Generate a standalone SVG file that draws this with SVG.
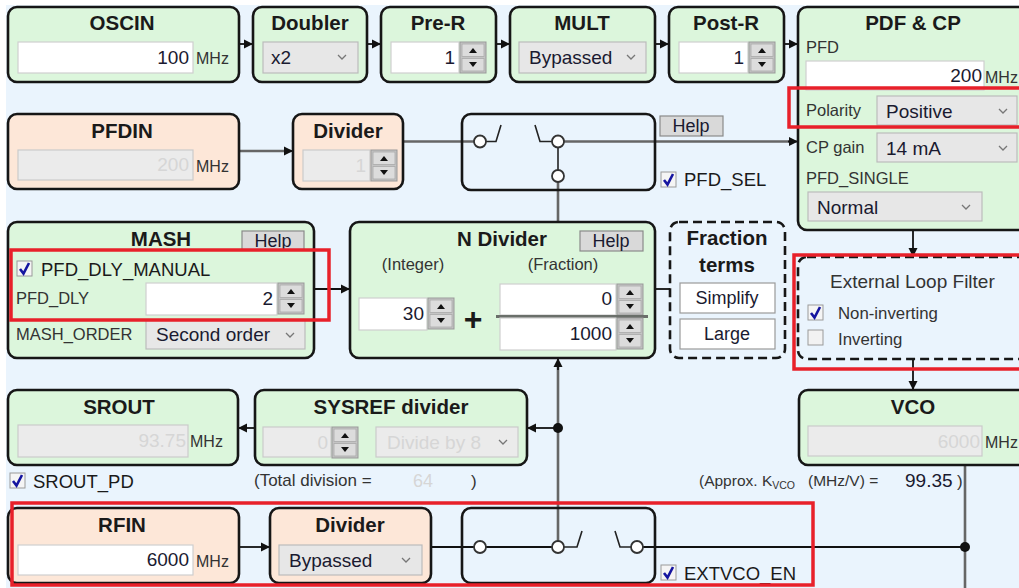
<svg xmlns="http://www.w3.org/2000/svg" width="1019" height="588" viewBox="0 0 1019 588">
<style>
text{font-family:"Liberation Sans",Arial,sans-serif}
.g{fill:#dcf6dc;stroke:#161616;stroke-width:2.6}
.p{fill:#fde7d8;stroke:#161616;stroke-width:2.6}
.sw{fill:none;stroke:#161616;stroke-width:2.6}
.dash{fill:none;stroke:#161616;stroke-width:2.6;stroke-dasharray:9 5}
.t{font-weight:bold;font-size:20.5px;fill:#1a1a1a;text-anchor:middle}
.in{fill:#fff;stroke:#cfcfcf;stroke-width:1.2}
.dis{fill:#ebebeb;stroke:#cbcbcb;stroke-width:1.2}
.sel{fill:#e7e7e7;stroke:#bcbcbc;stroke-width:1.2}
.v{font-size:19px;fill:#1a1a30;text-anchor:end}
.vs{font-size:19px;fill:#1a1a30}
.vd{font-size:19px;fill:#d6d6d6;text-anchor:end}
.lb{font-size:16.5px;fill:#333}
.u{font-size:16px;fill:#333}
.ck{font-size:18.5px;fill:#1a1a1a}
.btn{fill:#d9d9d9;stroke:#8a8a8a;stroke-width:1.2}
.bt{font-size:18px;fill:#1a1a30;text-anchor:middle}
.wb{fill:#fff;stroke:#9a9a9a;stroke-width:1.2}
.red{fill:none;stroke:#e8202a;stroke-width:3.5}
.k{stroke:#111;stroke-width:1.8;fill:none}
.gr{stroke:#666;stroke-width:2.6;fill:none}
.circ{fill:#fff;stroke:#333;stroke-width:1.8}
.sl{fill:none;stroke:#222;stroke-width:1.6}
</style>
<defs>
<marker id="ah" viewBox="0 0 10 10" refX="10" refY="5" markerWidth="9" markerHeight="10" markerUnits="userSpaceOnUse" orient="auto"><path d="M0,0 L10,5 L0,10 z" fill="#111"/></marker>
<g id="spin">
<rect x="0" y="0" width="26" height="31" fill="#c4c4c4" stroke="#999" stroke-width="1"/>
<rect x="2" y="2" width="22" height="12.5" fill="#dcdcdc" stroke="#aaa" stroke-width="0.8"/>
<rect x="2" y="16.5" width="22" height="12.5" fill="#dcdcdc" stroke="#aaa" stroke-width="0.8"/>
<path d="M9,11 L13,6 L17,11 z" fill="#111"/>
<path d="M9,20 L13,25 L17,20 z" fill="#111"/>
</g>
<path id="chev" d="M-4,-2 L0,2 L4,-2" fill="none" stroke="#777" stroke-width="1.3"/>
<g id="chk"><rect x="0" y="0" width="15" height="15" fill="#f5f5f5" stroke="#9a9a9a" stroke-width="1"/><path d="M3,8 L6.5,12.5 L12,2" fill="none" stroke="#1515a0" stroke-width="2.6"/></g>
<g id="unchk"><rect x="0" y="0" width="15" height="15" fill="#f2f2f2" stroke="#9a9a9a" stroke-width="1"/></g>
</defs>
<rect x="0" y="0" width="1019" height="588" fill="#fff"/>
<rect x="6" y="5" width="1013" height="583" fill="#eaf4fd"/>

<g id="connectors">
<line class="k" x1="239" y1="44" x2="253" y2="44" marker-end="url(#ah)"/>
<line class="k" x1="367" y1="44" x2="381" y2="44" marker-end="url(#ah)"/>
<line class="k" x1="496" y1="44" x2="510" y2="44" marker-end="url(#ah)"/>
<line class="k" x1="655" y1="44" x2="669" y2="44" marker-end="url(#ah)"/>
<line class="k" x1="784" y1="44" x2="798" y2="44" marker-end="url(#ah)"/>
<line class="gr" x1="239" y1="151" x2="291" y2="151"/>
<line class="k" x1="285" y1="151" x2="293" y2="151" marker-end="url(#ah)"/>
<line class="gr" x1="403" y1="141.5" x2="474" y2="141.5"/>
<line class="gr" x1="564" y1="141.5" x2="794" y2="141.5"/>
<line class="k" x1="788" y1="141.5" x2="798" y2="141.5" marker-end="url(#ah)"/>
<line class="gr" x1="558" y1="182" x2="558" y2="222"/>
<line class="k" x1="314" y1="289" x2="350" y2="289" marker-end="url(#ah)"/>
<line class="k" x1="655" y1="289" x2="670" y2="289"/>
<line class="k" x1="913" y1="230" x2="913" y2="257" marker-end="url(#ah)"/>
<line class="k" x1="913" y1="359" x2="913" y2="390" marker-end="url(#ah)"/>
<line class="gr" x1="558" y1="366" x2="558" y2="541"/>
<line class="k" x1="558" y1="370" x2="558" y2="358" marker-end="url(#ah)"/>
<line class="k" x1="558" y1="428" x2="527" y2="428" marker-end="url(#ah)"/>
<line class="k" x1="255" y1="428" x2="238" y2="428" marker-end="url(#ah)"/>
<line class="k" x1="376" y1="432" x2="358" y2="432" marker-end="url(#ah)"/>
<circle cx="558" cy="428" r="5" fill="#111"/>
<line class="gr" x1="965" y1="465" x2="965" y2="588"/>
<line class="k" x1="239" y1="547" x2="270" y2="547" marker-end="url(#ah)"/>
<line class="k" x1="431" y1="547" x2="474" y2="547"/>
<line class="k" x1="643" y1="547" x2="965" y2="547"/>
<circle cx="965" cy="547" r="5" fill="#111"/>
</g>

<g id="oscin">
<rect class="g" x="8" y="7" width="231" height="75" rx="9"/>
<text class="t" x="122" y="30">OSCIN</text>
<rect class="in" x="18" y="42" width="175" height="31"/>
<text class="v" x="189" y="64">100</text>
<text class="u" x="196" y="64">MHz</text>
</g>
<g id="doubler">
<rect class="g" x="253" y="7" width="114" height="75" rx="9"/>
<text class="t" x="310" y="30">Doubler</text>
<rect class="sel" x="263" y="42" width="95" height="31"/>
<text class="vs" x="271" y="64">x2</text>
<use href="#chev" x="342" y="57"/>
</g>
<g id="prer">
<rect class="g" x="381" y="7" width="115" height="75" rx="9"/>
<text class="t" x="438" y="30">Pre-R</text>
<rect class="in" x="391" y="42" width="68" height="31"/>
<text class="v" x="455" y="64">1</text>
<use href="#spin" x="460" y="42"/>
</g>
<g id="mult">
<rect class="g" x="510" y="7" width="145" height="75" rx="9"/>
<text class="t" x="582" y="30">MULT</text>
<rect class="sel" x="519" y="42" width="127" height="31"/>
<text class="vs" x="529" y="64">Bypassed</text>
<use href="#chev" x="631" y="57"/>
</g>
<g id="postr">
<rect class="g" x="669" y="7" width="115" height="75" rx="9"/>
<text class="t" x="726" y="30">Post-R</text>
<rect class="in" x="679" y="42" width="69" height="31"/>
<text class="v" x="744" y="64">1</text>
<use href="#spin" x="749" y="42"/>
</g>
<g id="pdfcp">
<rect class="g" x="798" y="7" width="240" height="223" rx="9"/>
<text class="t" x="913" y="30">PDF &amp; CP</text>
<text class="lb" x="806" y="53">PFD</text>
<rect class="in" x="806" y="61" width="178" height="29"/>
<text class="v" x="982" y="82">200</text>
<text class="u" x="985" y="83">MHz</text>
<text class="lb" x="806" y="116">Polarity</text>
<rect class="sel" x="877" y="96" width="140" height="29"/>
<text class="vs" x="886" y="118">Positive</text>
<use href="#chev" x="1003" y="111"/>
<text class="lb" x="806" y="153">CP gain</text>
<rect class="sel" x="877" y="133" width="140" height="29"/>
<text class="vs" x="886" y="155">14 mA</text>
<use href="#chev" x="1003" y="148"/>
<text class="lb" x="806" y="184">PFD_SINGLE</text>
<rect class="sel" x="808" y="192" width="174" height="29"/>
<text class="vs" x="817" y="214">Normal</text>
<use href="#chev" x="966" y="207"/>
</g>
<g id="pfdin">
<rect class="p" x="8" y="114" width="231" height="75" rx="9"/>
<text class="t" x="122" y="138">PFDIN</text>
<rect class="dis" x="18" y="150" width="175" height="30"/>
<text class="vd" x="189" y="171">200</text>
<text class="u" x="196" y="172">MHz</text>
</g>
<g id="divider1">
<rect class="p" x="293" y="114" width="110" height="75" rx="9"/>
<text class="t" x="348" y="138">Divider</text>
<rect class="dis" x="303" y="150" width="67" height="31"/>
<text class="vd" x="366" y="172">1</text>
<use href="#spin" x="371" y="150"/>
</g>
<g id="pfdsel-switch">
<rect class="sw" x="462" y="114" width="193" height="76" rx="9"/>
<path class="sl" d="M486,141.5 H496 L501,125 M535,125 L540,141.5 H552"/>
<line class="sl" x1="558" y1="148" x2="558" y2="170"/>
<circle class="circ" cx="480" cy="141.5" r="6"/>
<circle class="circ" cx="558" cy="141.5" r="6"/>
<circle class="circ" cx="558" cy="176" r="6"/>
<rect class="btn" x="660" y="116" width="63" height="20"/>
<text class="bt" x="691" y="132">Help</text>
<use href="#chk" x="661" y="172"/>
<text class="ck" x="684" y="186">PFD_SEL</text>
</g>
<g id="mash">
<rect class="g" x="8" y="222" width="306" height="136" rx="9"/>
<text class="t" x="161" y="246">MASH</text>
<rect class="btn" x="242" y="231" width="62" height="19"/>
<text class="bt" x="273" y="247">Help</text>
<use href="#chk" x="17" y="261"/>
<text class="ck" x="41" y="276">PFD_DLY_MANUAL</text>
<text class="lb" x="16" y="304">PFD_DLY</text>
<rect class="in" x="146" y="283" width="131" height="32"/>
<text class="v" x="273" y="305">2</text>
<use href="#spin" x="278" y="283"/>
<text class="lb" x="16" y="340">MASH_ORDER</text>
<rect class="sel" x="146" y="320" width="159" height="29"/>
<text class="vs" x="156" y="341">Second order</text>
<use href="#chev" x="290" y="335"/>
</g>
<g id="ndivider">
<rect class="g" x="350" y="222" width="305" height="136" rx="9"/>
<text class="t" x="502" y="246">N Divider</text>
<rect class="btn" x="580" y="231" width="63" height="20"/>
<text class="bt" x="611" y="247">Help</text>
<text class="lb" x="413" y="270" text-anchor="middle">(Integer)</text>
<text class="lb" x="563" y="270" text-anchor="middle">(Fraction)</text>
<rect class="in" x="359" y="298" width="68" height="32"/>
<text class="v" x="424" y="320">30</text>
<use href="#spin" x="428" y="298"/>
<text x="473" y="330" font-size="32" font-weight="bold" fill="#1a1a1a" text-anchor="middle">+</text>
<rect class="in" x="500" y="284" width="116" height="31"/>
<text class="v" x="612" y="305">0</text>
<use href="#spin" x="617" y="284"/>
<line x1="496" y1="316.5" x2="648" y2="316.5" stroke="#6a6f6a" stroke-width="3"/>
<rect class="in" x="500" y="318" width="116" height="32"/>
<text class="v" x="612" y="340">1000</text>
<use href="#spin" x="617" y="318"/>
</g>
<g id="fraction-terms">
<rect class="dash" x="670" y="222" width="115" height="136" rx="9"/>
<text class="t" x="727" y="245">Fraction</text>
<text class="t" x="727" y="272">terms</text>
<rect class="wb" x="680" y="283" width="95" height="30"/>
<text class="bt" x="727" y="304">Simplify</text>
<rect class="wb" x="680" y="319" width="95" height="30"/>
<text class="bt" x="727" y="340">Large</text>
</g>
<g id="loop-filter">
<rect class="dash" x="798" y="257" width="240" height="102" rx="9"/>
<text x="830" y="288" font-size="19px" fill="#333">External Loop Filter</text>
<use href="#chk" x="808" y="305"/>
<text x="838" y="319" font-size="16.8px" fill="#333">Non-inverting</text>
<use href="#unchk" x="808" y="330"/>
<text x="838" y="345" font-size="16.8px" fill="#333">Inverting</text>
</g>
<g id="vco">
<rect class="g" x="799" y="390" width="240" height="75" rx="9"/>
<text class="t" x="913" y="414">VCO</text>
<rect class="dis" x="808" y="426" width="174" height="30"/>
<text class="vd" x="980" y="448">6000</text>
<text class="u" x="985" y="448">MHz</text>
<text x="699" y="486" font-size="15.5px" fill="#333">(Approx. K<tspan font-size="10.5px" dy="3">VCO</tspan><tspan dy="-3" x="808">(MHz/V) =</tspan></text>
<text class="vs" x="905" y="487">99.35</text>
<text x="957" y="487" font-size="17px" fill="#333">)</text>
</g>
<g id="srout">
<rect class="g" x="8" y="390" width="230" height="75" rx="9"/>
<text class="t" x="119" y="414">SROUT</text>
<rect class="dis" x="18" y="425" width="170" height="32"/>
<text class="vd" x="186" y="447">93.75</text>
<text class="u" x="190" y="447">MHz</text>
<use href="#chk" x="10" y="473"/>
<text class="ck" x="33" y="488">SROUT_PD</text>
</g>
<g id="sysref">
<rect class="g" x="255" y="390" width="272" height="75" rx="9"/>
<text class="t" x="391" y="414">SYSREF divider</text>
<rect class="dis" x="263" y="427" width="68" height="30"/>
<text class="vd" x="328" y="449">0</text>
<use href="#spin" x="332" y="427"/>
<rect class="dis" x="376" y="427" width="142" height="30"/>
<text x="387" y="449" font-size="19px" fill="#d6d6d6">Divide by 8</text>
<use href="#chev" x="503" y="442"/>
<text x="254" y="486" font-size="17px" fill="#333">(Total division =</text>
<text x="413" y="487" font-size="18px" fill="#d6d6d6">64</text>
<text x="471" y="487" font-size="17px" fill="#333">)</text>
</g>
<g id="rfin">
<rect class="p" x="8" y="508" width="231" height="75" rx="9"/>
<text class="t" x="122" y="532">RFIN</text>
<rect class="in" x="18" y="545" width="175" height="30"/>
<text class="v" x="189" y="566">6000</text>
<text class="u" x="196" y="567">MHz</text>
</g>
<g id="divider2">
<rect class="p" x="270" y="508" width="161" height="75" rx="9"/>
<text class="t" x="350" y="532">Divider</text>
<rect class="sel" x="279" y="545" width="143" height="30"/>
<text class="vs" x="289" y="567">Bypassed</text>
<use href="#chev" x="406" y="560"/>
</g>
<g id="extvco-switch">
<rect class="sw" x="462" y="508" width="193" height="75" rx="9"/>
<line class="k" x1="486" y1="547" x2="552" y2="547"/>
<path class="sl" d="M564,547 H577 L582,531 M615,531 L620,547 H631"/>
<circle class="circ" cx="480" cy="547" r="6"/>
<circle class="circ" cx="558" cy="547" r="6"/>
<circle class="circ" cx="637" cy="547" r="6"/>
<use href="#chk" x="661" y="565"/>
<text class="ck" x="684" y="580">EXTVCO_EN</text>
</g>
<g id="highlights">
<rect class="red" x="789" y="88" width="240" height="39"/>
<rect class="red" x="11" y="250" width="318" height="70"/>
<rect class="red" x="794" y="255" width="240" height="114"/>
<rect class="red" x="12" y="503" width="801" height="82"/>
</g>
</svg>
